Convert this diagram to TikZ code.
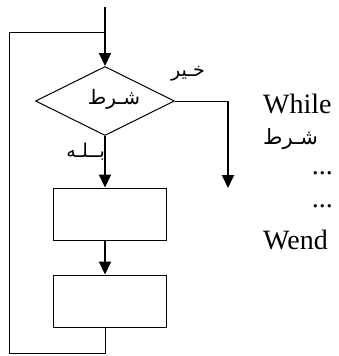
\documentclass[tikz,border=0pt]{standalone}
\usepackage{fontspec}
\setmainfont{Liberation Serif}
\newfontfamily\arabicfont[Script=Arabic]{DejaVu Sans}
\TeXXeTstate=1
\usetikzlibrary{arrows.meta,shapes.geometric}
\begin{document}
\begin{tikzpicture}[x=1pt,y=-1pt,
  thin line/.style={line width=1pt},
  thick line/.style={line width=2pt},
  arr/.style={thick line,-{Triangle[length=13pt,width=12pt]}},
  cond/.style={diamond,draw,thin line,inner sep=0pt,minimum width=139pt,minimum height=69pt},
  block/.style={rectangle,draw,thin line,inner sep=0pt,minimum width=113pt,minimum height=52pt},
  ar/.style={font=\arabicfont\fontsize{19}{22}\selectfont,inner sep=0pt},
  en/.style={font=\fontsize{28}{32}\selectfont,inner sep=0pt,anchor=west}]
\useasboundingbox (0,0) rectangle (338,356);
\coordinate (start) at (105,7);
\coordinate (join) at (105,32);
\node[cond] (d) at (105,101) {};
\node[ar,font=\arabicfont\fontsize{20}{24}\selectfont] (dl) at (114,99) {\beginR شـرط\endR};
\node[block] (b1) at (109.5,214) {};
\node[block] (b2) at (109.5,301) {};
\coordinate (r1) at (228,101);
\coordinate (r2) at (228,188);
\coordinate (lb) at (9,353);
\coordinate (lt) at (9,32);
\coordinate (rb) at (105,353);
% connectors
\draw[arr] (start) -- (d.north);
\draw[arr] (d.south) -- (d.south |- b1.north);
\draw[arr] (d.south |- b1.south) -- (d.south |- b2.north);
\draw[thin line] (d.east) -- (r1);
\draw[arr] (r1) -- (r2);
\draw[thin line] (d.south |- b2.south) -- (rb) -- (lb) -- (lt) -- (join);
% labels
\node[ar] (no) at (188,74) {\beginR خـير\endR};
\node[ar,anchor=east] (yes) at (105,152) {\beginR بــلـه\endR};
% code text
\node[en] (t1) at (263,104) {While};
\node[ar,anchor=west,font=\arabicfont\fontsize{21}{24}\selectfont] (t2) at (263,139) {\beginR شـرط\endR};
\node[en,anchor=east] (t3) at (333,173) {...};
\node[en,anchor=east] (t4) at (333,206) {...};
\node[en] (t5) at (263,240) {Wend};
\end{tikzpicture}
\end{document}
